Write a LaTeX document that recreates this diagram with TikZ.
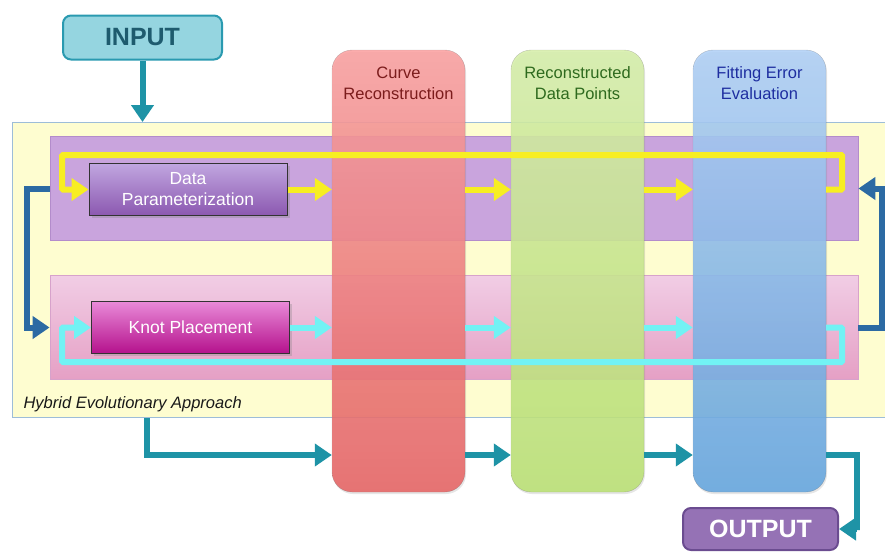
\documentclass[tikz,border=0pt]{standalone}
\usepackage{fontspec}
\setmainfont{Liberation Sans}
\usepackage{tikz}
\usetikzlibrary{arrows.meta, shadows}

\definecolor{inFill}{HTML}{95D5E0}
\definecolor{inDraw}{HTML}{2A9AB0}
\definecolor{inText}{HTML}{1E5B6E}
\definecolor{tealLine}{HTML}{1E93A6}
\definecolor{heaFill}{HTML}{FEFDD0}
\definecolor{heaDraw}{HTML}{9DBDD8}
\definecolor{pFill}{HTML}{C9A4DD}
\definecolor{pDraw}{HTML}{B38CCB}
\definecolor{kFill}{HTML}{ECBCDC}
\definecolor{kDraw}{HTML}{D7A2CB}
\definecolor{yLine}{HTML}{F7EE22}
\definecolor{cLine}{HTML}{72F2F4}
\definecolor{fLine}{HTML}{2C6AA3}
\definecolor{outFill}{HTML}{9572B5}
\definecolor{outDraw}{HTML}{6B4C90}

\tikzset{stage/.style={rectangle, rounded corners=20pt,
minimum width=133pt, minimum height=442pt,
fill opacity=0.88, draw opacity=0.35, draw=black!60,
drop shadow={opacity=0.2, shadow xshift=1pt, shadow yshift=-2pt}}}
\tikzset{stagetext/.style={align=center, font=\fontsize{16.5}{21}\selectfont}}
\tikzset{band/.style={rectangle, minimum width=808pt, minimum height=104pt, line width=0.8pt}}
\tikzset{stepbox/.style={rectangle, draw=black!80, line width=1pt,
minimum width=198pt, minimum height=52pt, text=white, align=center,
font=\fontsize{17.5}{21}\selectfont, drop shadow={opacity=0.3}}}
\tikzset{iobox/.style={rectangle, rounded corners=8pt, line width=2pt,
minimum height=44pt, font=\bfseries\fontsize{25}{25}\selectfont}}
\tikzset{yarrow/.style={draw=yLine, line width=6pt, -{Triangle[width=22pt, length=17pt]}}}
\tikzset{carrow/.style={draw=cLine, line width=6pt, -{Triangle[width=22pt, length=17pt]}}}
\tikzset{farrow/.style={draw=fLine, line width=6pt, -{Triangle[width=22pt, length=17pt]}}}
\tikzset{tarrow/.style={draw=tealLine, line width=6pt, -{Triangle[width=22pt, length=17pt]}}}

\begin{document}
\begin{tikzpicture}[x=1pt, y=-1pt]
\useasboundingbox (0,0) rectangle (885,552);

\node [iobox, draw=inDraw, fill=inFill, text=inText, minimum width=159pt] (input) at (142.5, 37.5) {INPUT};

\node[rectangle,
anchor=north west,
minimum width=890pt,
minimum height=295pt,
line width=1.2pt,
draw=heaDraw, fill=heaFill] (hea) at (12, 122) {};
\node [anchor=base west, font=\itshape\fontsize{16.5}{18}\selectfont, text=black!90] (hlabel) at (20, 408) {Hybrid Evolutionary Approach};

\node [band, draw=pDraw, fill=pFill] (pband) at (454, 188.5) {};
\node [band, draw=kDraw, top color=kFill!75!white, bottom color=kFill!85!purple] (kband) at (454, 327.5) {};

\node [stepbox, top color={rgb,255:red,193;green,166;blue,224}, bottom color={rgb,255:red,139;green,88;blue,176}] (dp) at (188, 189.5) {Data\\Parameterization};
\node [stepbox, top color={rgb,255:red,232;green,138;blue,216}, bottom color={rgb,255:red,181;green,17;blue,140}] (kp) at (190.5, 327.5) {Knot Placement};

% columns
\node [stage, top color={rgb,255:red,250;green,160;blue,160}, bottom color={rgb,255:red,230;green,100;blue,100}] (crv) at (398.5, 271) {};
\node [stage, top color={rgb,255:red,214;green,238;blue,170}, bottom color={rgb,255:red,186;green,225;blue,115}] (rdp) at (577.5, 271) {};
\node [stage, top color={rgb,255:red,176;green,208;blue,246}, bottom color={rgb,255:red,100;green,165;blue,222}] (fee) at (759.5, 271) {};

\node [stagetext, text={rgb,255:red,123;green,28;blue,28}] (crvlabel) at (398.5, 83) {Curve\\Reconstruction};
\node [stagetext, text={rgb,255:red,46;green,106;blue,30}] (rdplabel) at (577.5, 83) {Reconstructed\\Data Points};
\node [stagetext, text={rgb,255:red,30;green,46;blue,160}] (feelabel) at (759.5, 83) {Fitting Error\\Evaluation};

\node [iobox, draw=outDraw, fill=outFill, text=white, minimum width=155pt, minimum height=42pt] (output) at (760.5, 529) {OUTPUT};

\coordinate (ytopr) at (842, 155);
\coordinate (ytopl) at (62, 155);
\coordinate (cbotr) at (842, 362);
\coordinate (cbotl) at (62, 362);
\coordinate (fbl) at (27, 189);
\coordinate (fbr) at (882, 189);
\coordinate (tdown) at (147, 455);
\coordinate (tout) at (857, 530);

% yellow loop
\draw [yarrow] (dp.east) -- (dp.east -| crv.west);
\draw [yarrow] (crv.east |- dp.east) -- (dp.east -| rdp.west);
\draw [yarrow] (rdp.east |- dp.east) -- (dp.east -| fee.west);
\draw [yarrow, rounded corners=1pt] (fee.east |- dp.east) -| (ytopr) -- (ytopl) |- (dp.west);

% cyan loop
\draw [carrow] (kp.east) -- (kp.east -| crv.west);
\draw [carrow] (crv.east |- kp.east) -- (kp.east -| rdp.west);
\draw [carrow] (rdp.east |- kp.east) -- (kp.east -| fee.west);
\draw [carrow, rounded corners=1pt] (fee.east |- kp.east) -| (cbotr) -- (cbotl) |- (kp.west);

% feedback
\draw [farrow] (pband.west) -| (fbl) |- (kband.west);
\draw [farrow] (kband.east) -| (fbr) |- (pband.east);

% main flow
\draw [tarrow] (input.south) -- (input.south |- hea.north);
\draw [tarrow] (tdown |- hea.south) -- (tdown) -- (tdown -| crv.west);
\draw [tarrow] (crv.east |- tdown) -- (tdown -| rdp.west);
\draw [tarrow] (rdp.east |- tdown) -- (tdown -| fee.west);
\draw [tarrow] (fee.east |- tdown) -| (tout) |- (output.east);

\end{tikzpicture}
\end{document}
